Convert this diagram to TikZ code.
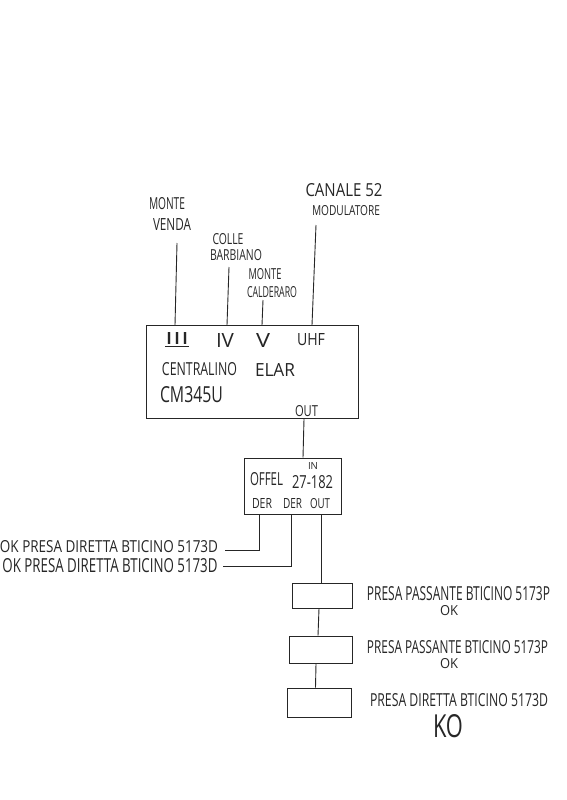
\documentclass[tikz,border=0pt]{standalone}
\usepackage{fontspec}
\setmainfont{Open Sans}
\newcommand{\rb}[3]{\resizebox{#1pt}{#2pt}{#3}}
\tikzset{
  wire/.style={line width=0.9pt,draw=black!85},
  unit/.style={draw=black!85,line width=1pt,inner sep=0pt,fill=none},
  lab/.style={inner sep=0pt,text=black!85}
}
\begin{document}
\begin{tikzpicture}[x=1pt,y=-1pt]
\useasboundingbox (0,0) rectangle (566,800);
% boxes
\node[unit,minimum width=212pt,minimum height=93pt] (main) at (252,372) {};
\node[unit,minimum width=97pt,minimum height=56pt] (offel) at (293,486) {};
\node[unit,minimum width=60pt,minimum height=25pt] (p1) at (322,595.5) {};
\node[unit,minimum width=63pt,minimum height=27pt] (p2) at (321,649.5) {};
\node[unit,minimum width=64pt,minimum height=29pt] (p3) at (319.5,702.5) {};
% free ends
\coordinate (i3) at (177,243);
\coordinate (i4) at (229,267);
\coordinate (i5) at (263,300);
\coordinate (iu) at (316,225);
\coordinate (e1) at (225,550);
\coordinate (e2) at (223,566);
% antenna inputs
\draw[wire] (i3) -- ([xshift=-77pt]main.north);
\draw[wire] (i4) -- ([xshift=-25pt]main.north);
\draw[wire] (i5) -- ([xshift=10pt]main.north);
\draw[wire] (iu) -- ([xshift=60pt]main.north);
% chain
\draw[wire] ([xshift=52pt]main.south) -- ([xshift=10pt]offel.north);
\draw[wire] ([xshift=-34pt]offel.south) |- (e1);
\draw[wire] ([xshift=-2pt]offel.south) |- (e2);
\draw[wire] ([xshift=28pt]offel.south) -- ([xshift=-1pt]p1.north);
\draw[wire] ([xshift=-3pt]p1.south) -- ([xshift=-3pt]p2.north);
\draw[wire] ([xshift=-5pt]p2.south) -- ([xshift=-4pt]p3.north);
% top labels
\node[lab] (l1) at (167,204) {\rb{36}{12}{MONTE}};
\node[lab] (l2) at (172,224) {\rb{38}{12}{VENDA}};
\node[lab] (l3) at (228,239) {\rb{31}{11}{COLLE}};
\node[lab] (l4) at (236,255) {\rb{52}{11}{BARBIANO}};
\node[lab] (l5) at (265,274) {\rb{33}{11}{MONTE}};
\node[lab] (l6) at (272,292) {\rb{50}{11}{CALDERARO}};
\node[lab] (l7) at (344,190) {\rb{77}{13}{CANALE 52}};
\node[lab] (l8) at (346,211) {\rb{68}{10}{MODULATORE}};
% main box labels
\node[lab] (t1) at (177,340) {\rb{24}{12}{\underline{III}}};
\node[lab] (t2) at (225,340) {\rb{18}{14}{IV}};
\node[lab] (t3) at (263,340) {\rb{14}{14}{V}};
\node[lab] (t4) at (311,340) {\rb{28}{12}{UHF}};
\node[lab] (t5) at (199.5,369) {\rb{75}{13}{CENTRALINO}};
\node[lab] (t6) at (275,370) {\rb{40}{13}{ELAR}};
\node[lab] (t7) at (191.5,395) {\rb{63}{16}{CM345U}};
\node[lab] (t8) at (306.5,411) {\rb{23}{11}{OUT}};
% offel labels
\node[lab] (o1) at (313,465.5) {\rb{10}{7}{IN}};
\node[lab] (o2) at (266.5,479) {\rb{33}{13}{OFFEL}};
\node[lab] (o3) at (312.5,482) {\rb{41}{13}{27-182}};
\node[lab] (o4) at (262,503) {\rb{20}{10}{DER}};
\node[lab] (o5) at (292.5,503) {\rb{19}{10}{DER}};
\node[lab] (o6) at (320,504) {\rb{20}{10}{OUT}};
% left labels
\node[lab] (a1) at (109,546.5) {\rb{218}{12}{OK PRESA DIRETTA BTICINO 5173D}};
\node[lab] (a2) at (110,566) {\rb{215}{14}{OK PRESA DIRETTA BTICINO 5173D}};
% right labels
\node[lab] (b1) at (458.5,594) {\rb{183}{14}{PRESA PASSANTE BTICINO 5173P}};
\node[lab] (b2) at (449,611) {\rb{18}{10}{OK}};
\node[lab] (b3) at (457.5,647.5) {\rb{181}{13}{PRESA PASSANTE BTICINO 5173P}};
\node[lab] (b4) at (449,664) {\rb{18}{10}{OK}};
\node[lab] (b5) at (459,700) {\rb{178}{13}{PRESA DIRETTA BTICINO 5173D}};
\node[lab] (b6) at (448,726.5) {\rb{30}{23}{KO}};
\end{tikzpicture}
\end{document}
